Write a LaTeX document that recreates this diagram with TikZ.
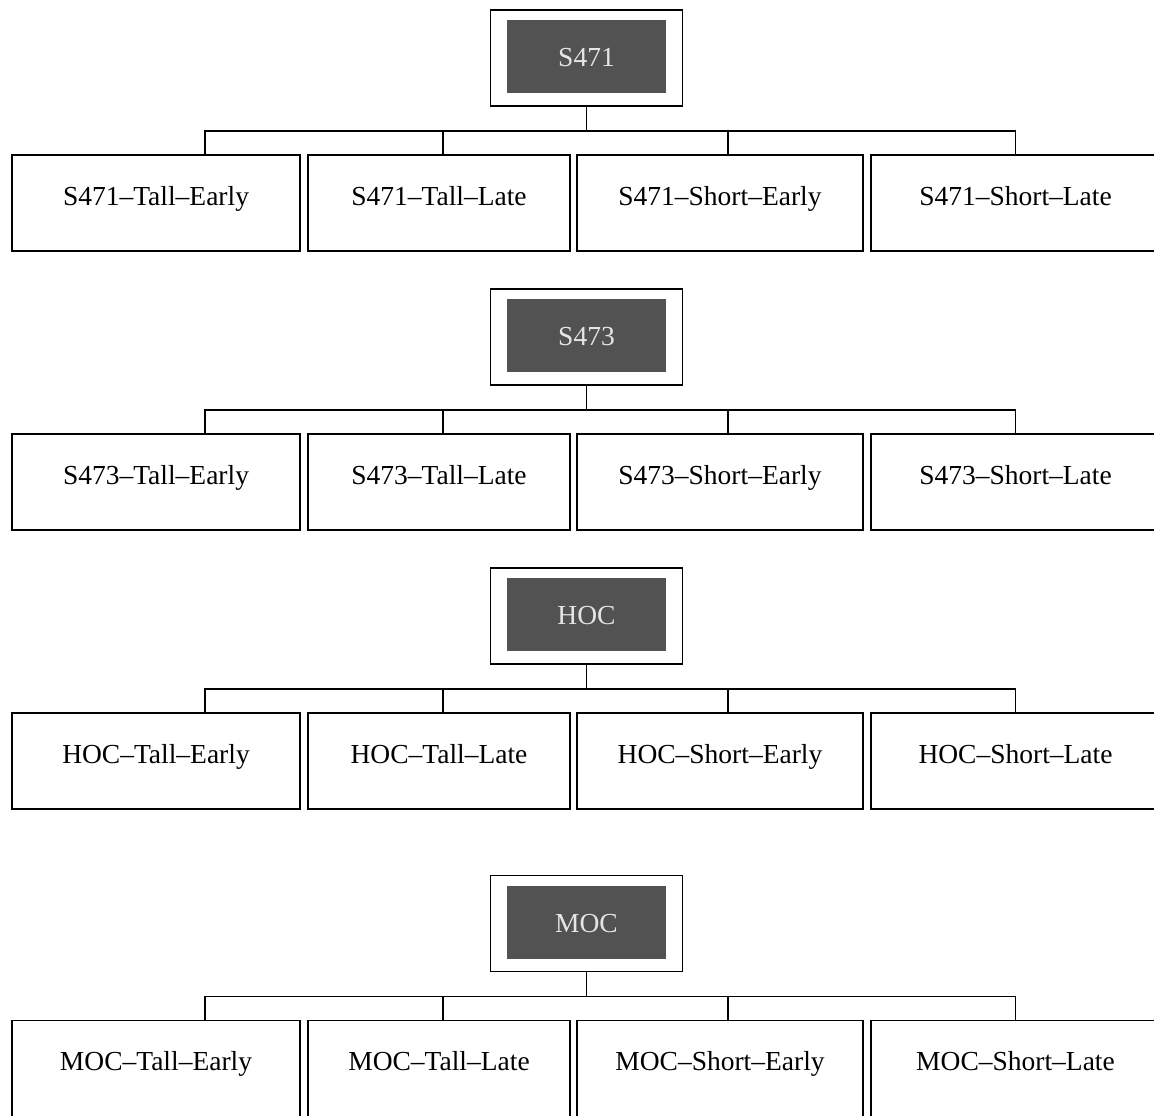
\documentclass[tikz,border=0pt]{standalone}
\usepackage{fontspec}
\setmainfont{Liberation Serif}
\definecolor{rootgray}{gray}{0.32}
\tikzset{
  leaf/.style={draw, line width=1.6pt, minimum height=96, inner sep=0pt,
    text height=0.7em, text depth=0.25em, font=\fontsize{27.5}{32}\selectfont},
  root/.style={draw, line width=1.6pt, minimum width=192, minimum height=96, inner sep=0pt,
    text=white!80!gray, font=\fontsize{27.5}{32}\selectfont,
    path picture={\fill[rootgray] ([shift={(16,-13)}]path picture bounding box.south west)
      rectangle ([shift={(-17,10)}]path picture bounding box.north east);}},
  link/.style={line width=1.6pt}
}
\begin{document}
\begin{tikzpicture}[x=1pt,y=-1pt]
\useasboundingbox (0,0) rectangle (1154,1116);
\foreach \name/\y in {S471/58,S473/337,HOC/616,MOC/923.5}{
  \node[root] (\name) at (586.5,\y) {\name};
  \node[leaf, minimum width=288] (\name te) at (156,\y+145) {\name--Tall--Early};
  \node[leaf, minimum width=262] (\name tl) at (439,\y+145) {\name--Tall--Late};
  \node[leaf, minimum width=286] (\name se) at (720,\y+145) {\name--Short--Early};
  \node[leaf, minimum width=289] (\name sl) at (1015.5,\y+145) {\name--Short--Late};
  \draw[link] (\name.south) -- ++(0,24) -| ([xshift=49]\name te.north);
  \draw[link] (\name.south) -- ++(0,24) -| ([xshift=4]\name tl.north);
  \draw[link] (\name.south) -- ++(0,24) -| ([xshift=8]\name se.north);
  \draw[link] (\name.south) -- ++(0,24) -| (\name sl.north);
}
\end{tikzpicture}
\end{document}
